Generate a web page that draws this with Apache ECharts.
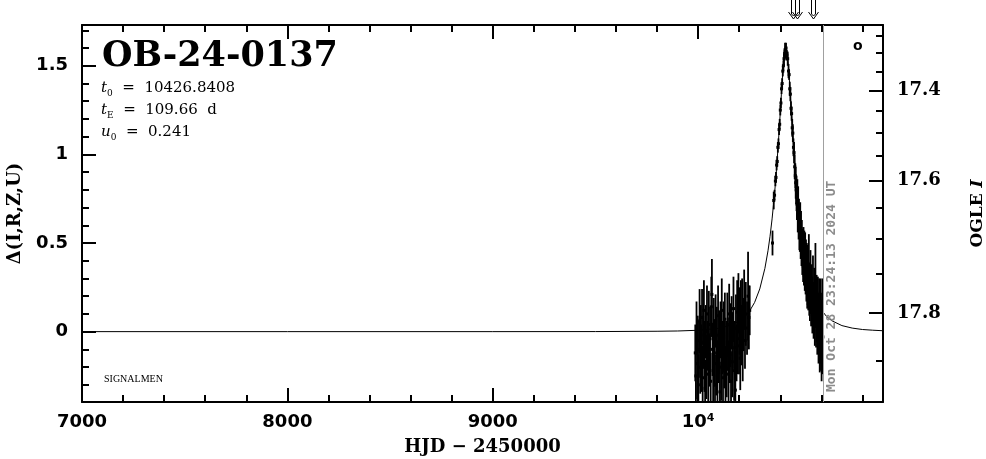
<!DOCTYPE html>
<html><head><meta charset="utf-8">
<script src="https://cdn.jsdelivr.net/npm/echarts@6/dist/echarts.min.js"></script>
<style>html,body{margin:0;padding:0;background:#fff}#c{width:986px;height:459px}</style>
</head><body><div id="c"></div>
<script>
// ---- data ----
const obsT = [
 9986,9989,9992,9995,9998,10001,10004,10007,10010,10013,10016,10019,10022,10025,10028,10031,10034,10037,10040,10043,
 10046,10049,10052,10055,10058,10061,10064,10067,10070,10073,10076,10079,10082,10085,10088,10091,10094,10097,10100,10103,
 10106,10109,10112,10115,10118,10121,10124,10127,10130,10133,10136,10139,10142,10145,10148,10151,10154,10157,10160,10163,
 10166,10169,10172,10175,10178,10181,10184,10187,10190,10193,10196,10199,10202,10205,10208,10211,10214,10217,10220,10224,
 10228,10232,10238,10243,10247,10251,
 10362,10368,10372,10376,10379,10382,10385,10388,10391,10394,10397,10400,10403,10406,10409,10412,10415,10418,10421,10423,
 10426,10428,10432,10436,10440,10443,10446,10449,10452,10455,10458,10461,10464,10467,10470,
 10473,10475,10477,10479,10481,10483,10485,10487,10489,10491,10493,10495,10497,10499,10501,10503,10505,10507,10509,10511,
 10513,10515,10517,10519,10521,10523,10525,10527,10529,10531,10533,10536,10539,10541,10544,10547,10550,10553,10556,10559,
 10562,10565,10568,10571,10574,10577,10580,10583,10586,10589,10592,10595,10598,10601,10604,10607
];
const obsDelta = [
 -0.12,-0.25,0.02,-0.18,-0.05,-0.30,-0.10,0.06,-0.20,-0.02,-0.15,0.08,-0.26,-0.06,0.12,-0.14,-0.32,0.00,-0.20,0.10,
 -0.08,-0.24,0.04,-0.16,-0.04,-0.28,0.14,0.21,-0.10,-0.22,0.03,-0.12,-0.30,0.06,-0.18,-0.02,-0.25,0.09,-0.14,-0.06,
 -0.34,0.01,-0.20,0.12,-0.09,-0.26,-0.03,-0.16,0.07,-0.30,-0.11,-0.21,0.04,-0.07,-0.24,0.10,-0.13,-0.02,-0.28,0.05,
 -0.17,-0.05,0.13,-0.22,-0.09,-0.33,0.02,-0.12,0.11,-0.04,0.16,-0.08,0.06,-0.15,0.09,-0.02,0.14,-0.10,0.04,0.18,
 -0.05,0.10,0.02,0.20,0.08,0.12,
 0.50,0.74,0.77,0.85,0.87,0.94,0.96,1.04,1.06,1.14,1.17,1.25,1.29,1.37,1.40,1.47,1.50,1.54,1.56,1.59,
 1.57,1.60,1.56,1.54,1.47,1.45,1.37,1.34,1.26,1.23,1.15,1.12,1.04,1.01,0.93,
 0.88,0.84,0.80,0.78,0.72,0.75,0.66,0.70,0.62,0.64,0.58,0.55,0.60,0.52,0.56,0.48,0.50,0.44,0.47,0.41,
 0.45,0.38,0.42,0.36,0.40,0.33,0.37,0.30,0.34,0.28,0.32,0.26,0.35,0.24,0.22,0.28,0.18,0.21,0.15,0.24,
 0.12,0.17,0.10,0.26,0.08,0.13,0.05,0.10,0.02,0.08,-0.02,0.06,0.00,-0.05,0.04,-0.03
];
const obsErr = [
 0.16,0.18,0.15,0.20,0.14,0.17,0.16,0.18,0.15,0.17,0.19,0.16,0.18,0.15,0.17,0.20,0.16,0.15,0.18,0.16,
 0.14,0.17,0.19,0.15,0.18,0.16,0.17,0.20,0.15,0.18,0.16,0.19,0.17,0.15,0.18,0.16,0.20,0.17,0.15,0.18,
 0.17,0.16,0.19,0.18,0.15,0.17,0.20,0.16,0.15,0.22,0.17,0.16,0.18,0.15,0.19,0.17,0.16,0.18,0.17,0.15,
 0.20,0.16,0.18,0.17,0.15,0.22,0.19,0.16,0.18,0.20,0.17,0.16,0.19,0.18,0.20,0.17,0.16,0.18,0.15,0.17,
 0.16,0.18,0.15,0.25,0.18,0.14,
 0.07,0.05,0.03,0.03,0.03,0.03,0.03,0.03,0.03,0.03,0.03,0.03,0.03,0.03,0.03,0.03,0.03,0.04,0.03,0.04,
 0.03,0.03,0.03,0.04,0.04,0.03,0.04,0.04,0.04,0.04,0.05,0.05,0.05,0.06,0.07,
 0.07,0.09,0.08,0.10,0.09,0.11,0.10,0.12,0.10,0.11,0.12,0.10,0.13,0.11,0.12,0.11,0.13,0.12,0.11,0.13,
 0.14,0.12,0.15,0.13,0.16,0.12,0.15,0.13,0.16,0.15,0.17,0.14,0.20,0.15,0.16,0.18,0.15,0.17,0.16,0.19,
 0.16,0.19,0.18,0.24,0.17,0.19,0.18,0.21,0.20,0.22,0.21,0.24,0.22,0.23,0.26,0.21
];
const modelT = [7000,8000,9000,9500,9800,9900,10000,10100,10150,10200,10225,10250,10275,10300,10325,10340,10350,10360,10370,10375,
 10380,10390,10400,10405,10410,10415,10420,10427,10430,10435,10440,10445,10450,10455,10460,10465,10470,10480,10490,10500,
 10510,10525,10550,10575,10600,10625,10650,10700,10750,10800,10850,10900];
const modelDelta = [0.000,0.000,0.000,0.0004,0.0021,0.0036,0.0078,0.0192,0.033,0.059,0.082,0.115,0.165,0.241,0.357,0.456,0.538,0.636,0.754,0.820,
 0.893,1.056,1.240,1.336,1.429,1.511,1.572,1.606,1.599,1.559,1.491,1.405,1.311,1.215,1.122,1.033,0.950,0.802,0.677,0.572,
 0.485,0.379,0.255,0.175,0.122,0.086,0.062,0.034,0.020,0.012,0.008,0.005];
const arrowT = [10464, 10483, 10561];
const nowT = 10609;
const nowText = 'Mon Oct 28 23:24:13 2024 UT';

const xMajorTicks = [7000, 8000, 9000, 10000];
const xLabels = ['7000', '8000', '9000', '10⁴'];
const xMinorTicks = [7200,7400,7600,7800,8200,8400,8600,8800,9200,9400,9600,9800,10200,10400,10600,10800];
const yMajorTicks = [0, 0.5, 1, 1.5];
const yLabels = ['0', '0.5', '1', '1.5'];
const yMinorTicks = [-0.3,-0.2,-0.1,0.1,0.2,0.3,0.4,0.6,0.7,0.8,0.9,1.1,1.2,1.3,1.4,1.6,1.7];
const magMajorLabels = ['17.4', '17.6', '17.8'];
const magMajorPos = [1.361, 0.852, 0.104];
const magMinorPos = [1.670, 1.572, 1.469, 1.246, 1.124, 0.993, 0.697, 0.524, 0.329, -0.166];

const X_MIN = 7000, X_MAX = 10900, Y_MIN = -0.397, Y_MAX = 1.73;

const serif = '"DejaVu Serif", serif';
const sans = '"DejaVu Sans", sans-serif';

function tickAxis(pos, vals, len, extra) {
  const isY = pos === 'left' || pos === 'right';
  const base = {
    type: 'value', position: pos, min: isY ? Y_MIN : X_MIN, max: isY ? Y_MAX : X_MAX,
    axisLine: { show: false, onZero: false },
    axisTick: { show: true, inside: true, length: len, customValues: vals, lineStyle: { color: '#000', width: 2 } },
    axisLabel: { show: false }, splitLine: { show: false }
  };
  return Object.assign(base, extra || {});
}

const chart = echarts.init(document.getElementById('c'), null, { renderer: 'canvas' });
const frameLine = { show: true, onZero: false, lineStyle: { color: '#000', width: 2 } };
const paramRich = {
  i: { fontFamily: serif, fontStyle: 'italic', fontSize: 15, lineHeight: 20, fill: '#000' },
  s: { fontFamily: serif, fontSize: 9, lineHeight: 10, verticalAlign: 'bottom', fill: '#000' }
};

chart.setOption({
  animation: false,
  backgroundColor: '#fff',
  grid: { left: 82, right: 103, top: 25, bottom: 57, containLabel: false, outerBoundsMode: 'none' },
  xAxis: [
    tickAxis('bottom', xMajorTicks, 14, {
      axisLine: frameLine,
      axisLabel: { show: true, customValues: xMajorTicks, formatter: v => xLabels[xMajorTicks.indexOf(v)],
        margin: 11, color: '#000', fontFamily: sans, fontWeight: 'bold', fontSize: 18 },
      name: 'HJD − 2450000', nameLocation: 'middle', nameGap: 36,
      nameTextStyle: { color: '#000', fontFamily: serif, fontWeight: 'bold', fontSize: 18 }
    }),
    tickAxis('bottom', xMinorTicks, 7),
    tickAxis('top', xMajorTicks, 14, { axisLine: frameLine }),
    tickAxis('top', xMinorTicks, 7)
  ],
  yAxis: [
    tickAxis('left', yMajorTicks, 14, {
      axisLine: frameLine,
      axisLabel: { show: true, customValues: yMajorTicks, formatter: v => yLabels[yMajorTicks.indexOf(v)],
        margin: 14, color: '#000', fontFamily: sans, fontWeight: 'bold', fontSize: 18 },
      name: 'Δ(I,R,Z,U)', nameLocation: 'middle', nameGap: 58, nameRotate: 90,
      nameTextStyle: { color: '#000', fontFamily: serif, fontWeight: 'bold', fontSize: 18 }
    }),
    tickAxis('left', yMinorTicks, 7),
    tickAxis('right', magMajorPos, 14, {
      axisLine: frameLine,
      axisLabel: { show: true, customValues: magMajorPos,
        formatter: v => { let k = 0; magMajorPos.forEach((p, i) => { if (Math.abs(p - v) < Math.abs(magMajorPos[k] - v)) k = i; }); return magMajorLabels[k]; },
        margin: 14, color: '#000', fontFamily: serif, fontWeight: 'bold', fontSize: 18 },
      name: '{b|OGLE }{i|I}', nameLocation: 'middle', nameGap: 86, nameRotate: 90,
      nameTextStyle: { rich: {
        b: { color: '#000', fontFamily: serif, fontWeight: 'bold', fontSize: 17 },
        i: { color: '#000', fontFamily: serif, fontWeight: 'bold', fontStyle: 'italic', fontSize: 17 } } }
    }),
    tickAxis('right', magMinorPos, 7)
  ],
  graphic: [
    { type: 'text', x: 102, y: 39, style: { text: 'OB-24-0137', fill: '#000', font: 'bold 35px "DejaVu Serif"' } },
    { type: 'text', x: 101, y: 78, style: { text: '{i|t}{s|0}  =  10426.8408', rich: paramRich, fontFamily: serif, fontSize: 15, lineHeight: 20, fill: '#000' } },
    { type: 'text', x: 101, y: 100, style: { text: '{i|t}{s|E}  =  109.66  d', rich: paramRich, fontFamily: serif, fontSize: 15, lineHeight: 20, fill: '#000' } },
    { type: 'text', x: 101, y: 122, style: { text: '{i|u}{s|0}  =  0.241', rich: paramRich, fontFamily: serif, fontSize: 15, lineHeight: 20, fill: '#000' } },
    { type: 'text', x: 104, y: 374, style: { text: 'SIGNALMEN', fill: '#000', font: '10px "Liberation Serif"' } },
    { type: 'text', x: 853, y: 39, style: { text: 'o', fill: '#000', font: 'bold 14px "DejaVu Sans"' } }
  ],
  series: [
    {
      type: 'line', name: 'model', xAxisIndex: 0, yAxisIndex: 0, showSymbol: false, symbol: 'none',
      data: modelT.map((t, i) => [t, modelDelta[i]]), lineStyle: { color: '#000', width: 1 }, clip: true, z: 2,
      markLine: { silent: true, symbol: 'none', label: { show: false },
        lineStyle: { color: '#a0a0a0', width: 1, type: 'solid' }, data: [{ xAxis: nowT }] }
    },
    {
      type: 'custom', name: 'obs', xAxisIndex: 0, yAxisIndex: 0, clip: true, z: 3,
      data: obsT.map((t, i) => [t, obsDelta[i], obsErr[i]]),
      encode: { x: 0, y: 1 },
      renderItem: (params, api) => {
        const t = api.value(0), d = api.value(1), e = api.value(2);
        const p0 = api.coord([t, d - e]), p1 = api.coord([t, d + e]), c = api.coord([t, d]);
        return { type: 'group', children: [
          { type: 'line', shape: { x1: p0[0], y1: p0[1], x2: p1[0], y2: p1[1] }, style: { stroke: '#000', lineWidth: 1.8 } },
          { type: 'rect', shape: { x: c[0] - 1.5, y: c[1] - 1.5, width: 3, height: 3 }, style: { fill: '#000' } }
        ] };
      }
    },
    {
      type: 'custom', name: 'arrows', xAxisIndex: 0, yAxisIndex: 0, clip: false, z: 4,
      data: arrowT.map(t => [t, Y_MAX]), encode: { x: 0, y: 1 },
      renderItem: (params, api) => {
        const p = api.coord([api.value(0), api.value(1)]);
        const x = Math.round(p[0]) + 0.5, tip = p[1] - 6, top = 0;
        return { type: 'group', children: [
          { type: 'line', shape: { x1: x - 2, y1: top, x2: x - 2, y2: tip - 5 }, style: { stroke: '#000', lineWidth: 1 } },
          { type: 'line', shape: { x1: x + 2, y1: top, x2: x + 2, y2: tip - 5 }, style: { stroke: '#000', lineWidth: 1 } },
          { type: 'polyline', shape: { points: [[x - 5, tip - 7], [x, tip], [x + 5, tip - 7]] }, style: { stroke: '#000', fill: null, lineWidth: 1 } },
          { type: 'polyline', shape: { points: [[x - 2, tip - 5], [x, tip - 3], [x + 2, tip - 5]] }, style: { stroke: '#000', fill: null, lineWidth: 1 } }
        ] };
      }
    },
    {
      type: 'custom', name: 'now', xAxisIndex: 0, yAxisIndex: 0, clip: false, z: 4,
      data: [[nowT, Y_MIN]], encode: { x: 0, y: 1 },
      renderItem: (params, api) => {
        const p = api.coord([api.value(0), api.value(1)]);
        return { type: 'text', x: p[0] + 8, y: p[1] - 10, rotation: Math.PI / 2,
          style: { text: nowText, fill: '#8c8c8c', font: 'bold 13px "DejaVu Sans Mono"', align: 'left', verticalAlign: 'middle' } };
      }
    }
  ]
});
</script></body></html>
